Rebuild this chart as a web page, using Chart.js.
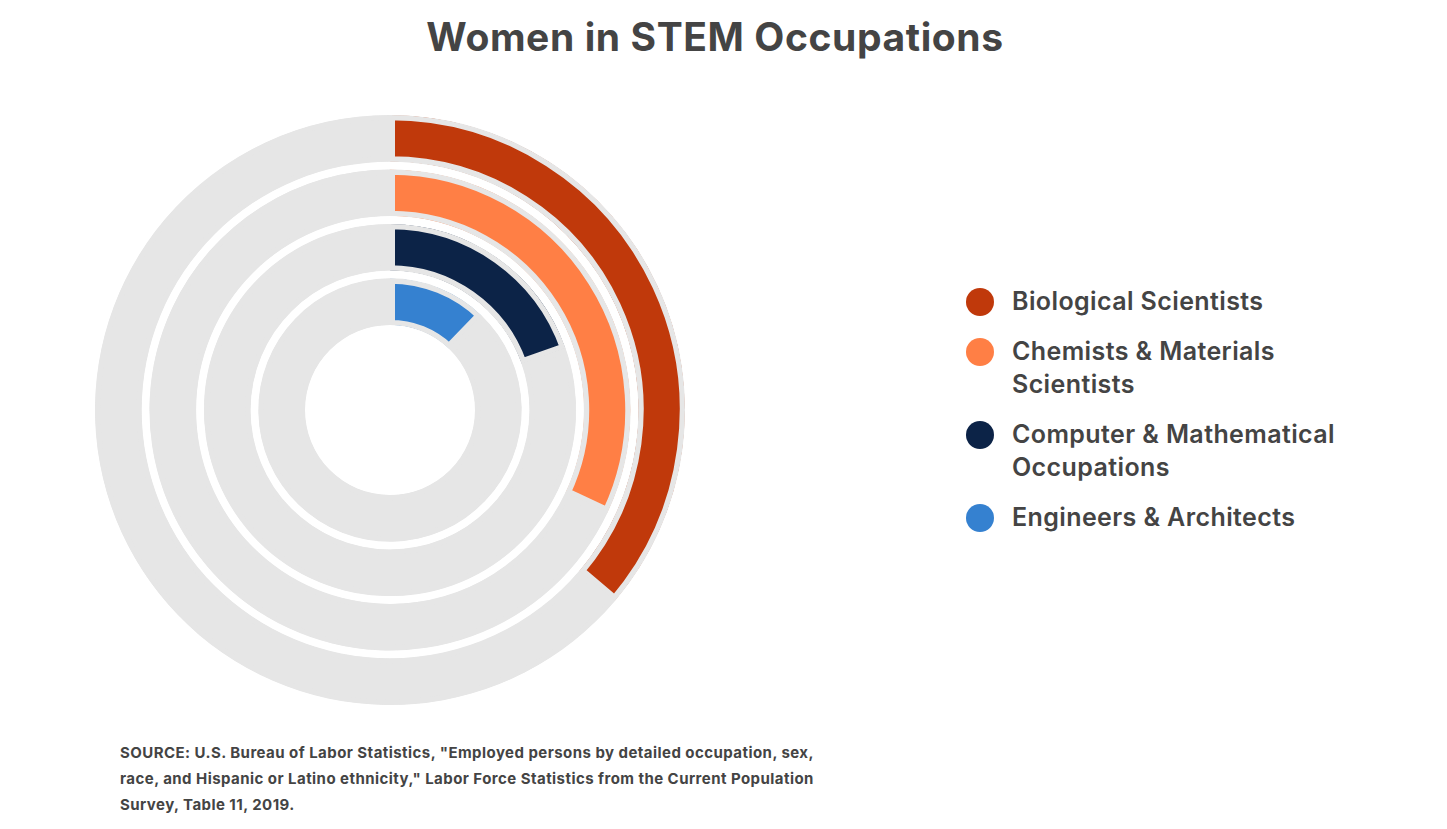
<!DOCTYPE html>
<html><head><meta charset="utf-8">
<script src="https://cdn.jsdelivr.net/npm/chart.js@4"></script>
<style>
body{margin:0;width:1447px;height:829px;background:#fff;font-family:Inter,"Noto Sans",sans-serif;color:#444;position:relative;overflow:hidden}
#title{position:absolute;top:13px;left:0;width:1430px;text-align:center;font-size:39px;font-weight:700;color:#444;letter-spacing:0.6px}
#wrap{position:absolute;left:95px;top:115px;width:590px;height:590px}
#legend{position:absolute;left:966px;top:285px;font-size:25px;font-weight:600;color:#444;letter-spacing:0.4px}
.item{position:relative;padding-left:46px;line-height:33px;margin-bottom:17px}
.dot{position:absolute;left:0;top:3px;width:28px;height:28px;border-radius:50%}
#src{position:absolute;left:120px;top:740px;font-size:15px;font-weight:700;line-height:26px;color:#444;width:900px;letter-spacing:0.45px}
</style></head><body>
<div id="title">Women in STEM Occupations</div>
<div id="wrap"><canvas id="c"></canvas></div>
<div id="legend"></div>
<div id="src">SOURCE: U.S. Bureau of Labor Statistics, "Employed persons by detailed occupation, sex,<br>race, and Hispanic or Latino ethnicity," Labor Force Statistics from the Current Population<br>Survey, Table 11, 2019.</div>
<script>
const categories=["Biological Scientists","Chemists & Materials\nScientists","Computer & Mathematical\nOccupations","Engineers & Architects"];
const values=[36.2,32.0,19.6,12.2];
const colors=["#c0390b","#ff7f45","#0c2347","#3581d0"];
const gray="#e6e6e6";
const datasets=[];
values.forEach((v,i)=>{
  if(i>0) datasets.push({data:[100],backgroundColor:["rgba(0,0,0,0)"],borderWidth:0,weight:8});
  datasets.push({label:categories[i],data:[v,100-v],backgroundColor:[colors[i],gray],borderColor:gray,borderWidth:5,borderAlign:'inner',weight:48});
});
new Chart(document.getElementById('c'),{type:'doughnut',data:{labels:["Women","Other"],datasets},
options:{responsive:true,maintainAspectRatio:false,animation:false,cutout:85,layout:{padding:0},
plugins:{legend:{display:false},tooltip:{enabled:false}}}});
const lg=document.getElementById('legend');
categories.forEach((c,i)=>{const d=document.createElement('div');d.className='item';
d.innerHTML='<span class="dot" style="background:'+colors[i]+'"></span>'+c.replace('\n','<br>');lg.appendChild(d);});
</script></body></html>
